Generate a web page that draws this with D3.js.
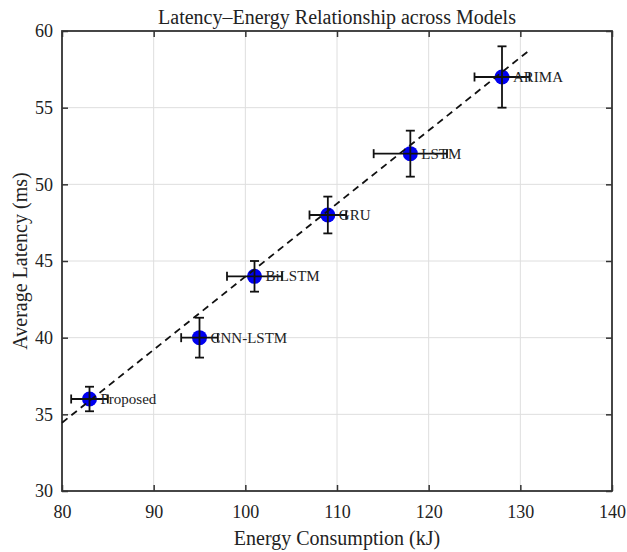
<!DOCTYPE html>
<html>
<head>
<meta charset="utf-8">
<script src="https://cdn.jsdelivr.net/npm/d3@7"></script>
<style>
  body { margin: 0; background: #fff; }
  text { font-family: "Liberation Serif", "Times New Roman", serif; fill: #222; }
</style>
</head>
<body>
<div id="chart"></div>
<script>
// data
const models = ["Proposed", "CNN-LSTM", "BiLSTM", "GRU", "LSTM", "ARIMA"];
const energy = [83, 95, 101, 109, 118, 128];        // kJ
const latency = [36, 40, 44, 48, 52, 57];           // ms
const energyErr = [2, 2, 3, 2, 4, 3];
const latencyErr = [0.8, 1.3, 1.0, 1.2, 1.5, 2.0];
const trendX = [80, 131];
const trendY = [34.45, 58.75];
const xTicks = [80, 90, 100, 110, 120, 130, 140];
const yTicks = [30, 35, 40, 45, 50, 55, 60];

const W = 627, H = 552;
const margin = {top: 31, right: 15, bottom: 61, left: 62};
const width = W - margin.left - margin.right;
const height = H - margin.top - margin.bottom;

const svg = d3.select("#chart")
    .append("svg")
    .attr("width", W)
    .attr("height", H);

const g = svg.append("g")
    .attr("transform", `translate(${margin.left},${margin.top})`);

const x = d3.scaleLinear().domain([80, 140]).range([0, width]);
const y = d3.scaleLinear().domain([30, 60]).range([height, 0]);

// grid
g.append("g")
    .selectAll("line")
    .data(xTicks)
    .enter()
    .append("line")
    .attr("x1", d => x(d)).attr("x2", d => x(d))
    .attr("y1", 0).attr("y2", height)
    .attr("stroke", "#dedede")
    .attr("stroke-width", 1);

g.append("g")
    .selectAll("line")
    .data(yTicks)
    .enter()
    .append("line")
    .attr("x1", 0).attr("x2", width)
    .attr("y1", d => y(d)).attr("y2", d => y(d))
    .attr("stroke", "#dedede")
    .attr("stroke-width", 1);

// axes, ticks pointing inward on all four sides
const tickLen = 6;
const axisStyle = sel => {
    sel.select(".domain").remove();
    sel.selectAll(".tick line").attr("stroke", "#333").attr("stroke-width", 1.5);
    sel.selectAll(".tick text").style("font-size", "18px").attr("fill", "#222")
        .style("font-family", "'Liberation Serif', serif");
};

g.append("g")
    .attr("transform", `translate(0,${height})`)
    .call(d3.axisBottom(x).tickValues(xTicks).tickSizeInner(-tickLen).tickSizeOuter(0).tickPadding(14))
    .call(axisStyle);

g.append("g")
    .call(d3.axisTop(x).tickValues(xTicks).tickSizeInner(-tickLen).tickSizeOuter(0).tickFormat(""))
    .call(axisStyle);

g.append("g")
    .call(d3.axisLeft(y).tickValues(yTicks).tickSizeInner(-tickLen).tickSizeOuter(0).tickPadding(9))
    .call(axisStyle);

g.append("g")
    .attr("transform", `translate(${width},0)`)
    .call(d3.axisRight(y).tickValues(yTicks).tickSizeInner(-tickLen).tickSizeOuter(0).tickFormat(""))
    .call(axisStyle);

// box
g.append("rect")
    .attr("width", width)
    .attr("height", height)
    .attr("fill", "none")
    .attr("stroke", "#333")
    .attr("stroke-width", 1.8);

const pts = models.map((m, i) => ({
    name: m, ex: energy[i], ly: latency[i], dx: energyErr[i], dy: latencyErr[i]
}));

// markers
g.append("g")
    .selectAll("circle")
    .data(pts)
    .enter()
    .append("circle")
    .attr("cx", d => x(d.ex))
    .attr("cy", d => y(d.ly))
    .attr("r", 7.5)
    .attr("fill", "#0000f0");

// error bars
const eb = g.append("g")
    .attr("stroke", "#111")
    .attr("stroke-width", 1.8)
    .selectAll("g")
    .data(pts)
    .enter()
    .append("g");

const cap = 4.5;
eb.append("line")
    .attr("x1", d => x(d.ex)).attr("x2", d => x(d.ex))
    .attr("y1", d => y(d.ly - d.dy)).attr("y2", d => y(d.ly + d.dy));
eb.append("line")
    .attr("x1", d => x(d.ex) - cap).attr("x2", d => x(d.ex) + cap)
    .attr("y1", d => y(d.ly + d.dy)).attr("y2", d => y(d.ly + d.dy));
eb.append("line")
    .attr("x1", d => x(d.ex) - cap).attr("x2", d => x(d.ex) + cap)
    .attr("y1", d => y(d.ly - d.dy)).attr("y2", d => y(d.ly - d.dy));
eb.append("line")
    .attr("x1", d => x(d.ex - d.dx)).attr("x2", d => x(d.ex + d.dx))
    .attr("y1", d => y(d.ly)).attr("y2", d => y(d.ly));
eb.append("line")
    .attr("x1", d => x(d.ex - d.dx)).attr("x2", d => x(d.ex - d.dx))
    .attr("y1", d => y(d.ly) - cap).attr("y2", d => y(d.ly) + cap);
eb.append("line")
    .attr("x1", d => x(d.ex + d.dx)).attr("x2", d => x(d.ex + d.dx))
    .attr("y1", d => y(d.ly) - cap).attr("y2", d => y(d.ly) + cap);

// dashed trend line
g.append("path")
    .datum(trendX.map((v, i) => [v, trendY[i]]))
    .attr("fill", "none")
    .attr("stroke", "#111")
    .attr("stroke-width", 1.8)
    .attr("stroke-dasharray", "7,5")
    .attr("d", d3.line().x(d => x(d[0])).y(d => y(d[1])));

// point labels
g.append("g")
    .selectAll("text")
    .data(pts)
    .enter()
    .append("text")
    .attr("x", d => x(d.ex) + 11)
    .attr("y", d => y(d.ly))
    .attr("dy", "0.33em")
    .style("font-size", "15px")
    .text(d => d.name);

// title and axis labels
svg.append("text")
    .attr("x", margin.left + width / 2)
    .attr("y", 24)
    .attr("text-anchor", "middle")
    .style("font-size", "20px")
    .text("Latency\u2013Energy Relationship across Models");

svg.append("text")
    .attr("x", margin.left + width / 2)
    .attr("y", 545)
    .attr("text-anchor", "middle")
    .style("font-size", "20px")
    .text("Energy Consumption (kJ)");

svg.append("text")
    .attr("transform", `translate(27,${margin.top + height / 2}) rotate(-90)`)
    .attr("text-anchor", "middle")
    .style("font-size", "20px")
    .text("Average Latency (ms)");
</script>
</body>
</html>
